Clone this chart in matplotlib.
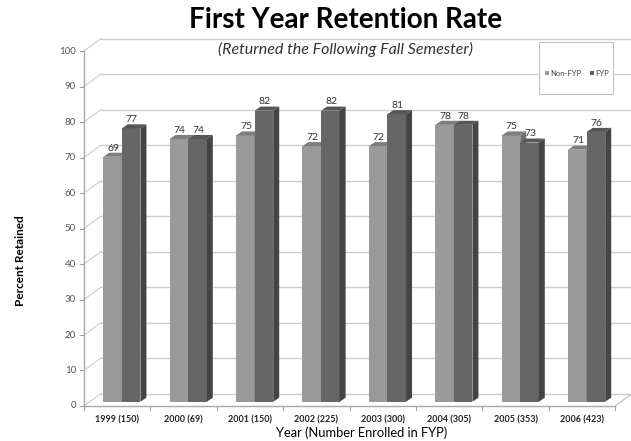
import matplotlib
matplotlib.use('Agg')
import matplotlib.pyplot as plt
from matplotlib.patches import Polygon, Rectangle

plt.rcParams['font.family'] = ['Lato', 'DejaVu Sans']

categories = ['1999 (150)', '2000 (69)', '2001 (150)', '2002 (225)',
              '2003 (300)', '2004 (305)', '2005 (353)', '2006 (423)']
non_fyp = [69, 74, 75, 72, 72, 78, 75, 71]
fyp = [77, 74, 82, 82, 81, 78, 73, 76]
yticks = list(range(0, 101, 10))

# pseudo-3d geometry (data units: x = category, y = percent)
DX, DY = 0.256, 3.5        # depth of the whole plot box
BDX, BDY = 0.09, 1.15      # depth of a single bar
BASE = 1.2                 # bars stand a little behind the front edge
WIDTH = 0.28

LIGHT = ('#9a9a9a', '#7e7e7e', '#6e6e6e')   # front, top, side
DARK = ('#666666', '#575757', '#444444')
GRID = '#cdcdcd'

fig = plt.figure(figsize=(6.31, 4.41), dpi=100)
ax = fig.add_axes([0, 0, 1, 1])
ax.set_xlim(-1.765, 7.738)
ax.set_ylim(-9.86, 114.37)
ax.axis('off')

n = len(categories)
x0, x1 = -0.5, n - 0.5

# back wall gridlines and left-wall diagonals
for v in yticks:
    ax.plot([x0 + DX, x1 + DX + 0.2], [v + DY, v + DY], color=GRID, lw=1, zorder=1)
    ax.plot([x0, x0 + DX], [v, v + DY], color=GRID, lw=0.8, zorder=1)
    ax.plot([x0 - 0.06, x0], [v, v], color='#a0a0a0', lw=0.8, zorder=2)
    ax.text(x0 - 0.12, v, str(v), ha='right', va='center', fontsize=7,
            color='#555555')

# floor front edge and right diagonal, front vertical axis
ax.plot([x0, x1], [0, 0], color='#a8a8a8', lw=1, zorder=2)
ax.plot([x1, x1 + DX], [0, DY], color='#bdbdbd', lw=0.8, zorder=2)
ax.plot([x0, x0], [0, 100], color='#a8a8a8', lw=1, zorder=2)
for k in range(n + 1):
    ax.plot([x0 + k, x0 + k], [0, -1.1], color='#a8a8a8', lw=0.8, zorder=2)


def bar3d(left, h, colors, z):
    front, top, side = colors
    r = left + WIDTH
    b, t = BASE, BASE + h
    ax.add_patch(Rectangle((left, b), WIDTH, h, facecolor=front,
                           edgecolor='none', zorder=z))
    ax.add_patch(Polygon([(left, t), (r, t), (r + BDX, t + BDY),
                          (left + BDX, t + BDY)], closed=True,
                         facecolor=top, edgecolor='none', zorder=z))
    ax.add_patch(Polygon([(r, b), (r, t), (r + BDX, t + BDY),
                          (r + BDX, b + BDY)], closed=True,
                         facecolor=side, edgecolor='none', zorder=z))
    ax.text(left + WIDTH / 2 + 0.01, t + 1.2, str(h), ha='center',
            va='bottom', fontsize=7.5, color='#333333', zorder=z + 1)


for i in range(n):
    bar3d(i - 0.21, non_fyp[i], LIGHT, 3 + 2 * i)
    bar3d(i + 0.07, fyp[i], DARK, 4 + 2 * i)
    ax.text(i, -3.9, categories[i], ha='center', va='center', fontsize=6.5,
            fontweight='bold', color='#222222')

# titles and axis labels
fig.text(0.547, 0.955, 'First Year Retention Rate', ha='center', va='center',
         fontsize=20, fontweight='bold')
fig.text(0.547, 0.887, '(Returned the Following Fall Semester)', ha='center',
         va='center', fontsize=11.5, style='italic', color='#333333')
fig.text(0.573, 0.018, 'Year (Number Enrolled in FYP)', ha='center',
         va='center', fontsize=9.3)
fig.text(0.032, 0.41, 'Percent Retained', ha='center', va='center',
         rotation=90, fontsize=8.5, fontweight='bold')

# legend box
ax.add_patch(Rectangle((539 / 631, 1 - 94 / 441), 74 / 631, 52 / 441,
                       transform=fig.transFigure, facecolor='white',
                       edgecolor='#c0c0c0', lw=0.8, zorder=30))
ly = 1 - 73 / 441
ax.add_patch(Rectangle((545 / 631, ly - 2 / 441), 4 / 631, 4 / 441,
                       transform=fig.transFigure, facecolor=LIGHT[0],
                       edgecolor='none', zorder=31))
fig.text(550 / 631, ly, 'Non-FYP', ha='left', va='center', fontsize=5.5,
         color='#444444', zorder=31)
ax.add_patch(Rectangle((590 / 631, ly - 2 / 441), 4 / 631, 4 / 441,
                       transform=fig.transFigure, facecolor=DARK[0],
                       edgecolor='none', zorder=31))
fig.text(595 / 631, ly, 'FYP', ha='left', va='center', fontsize=5.5,
         color='#444444', zorder=31)

fig.savefig('out.png', dpi=100)
